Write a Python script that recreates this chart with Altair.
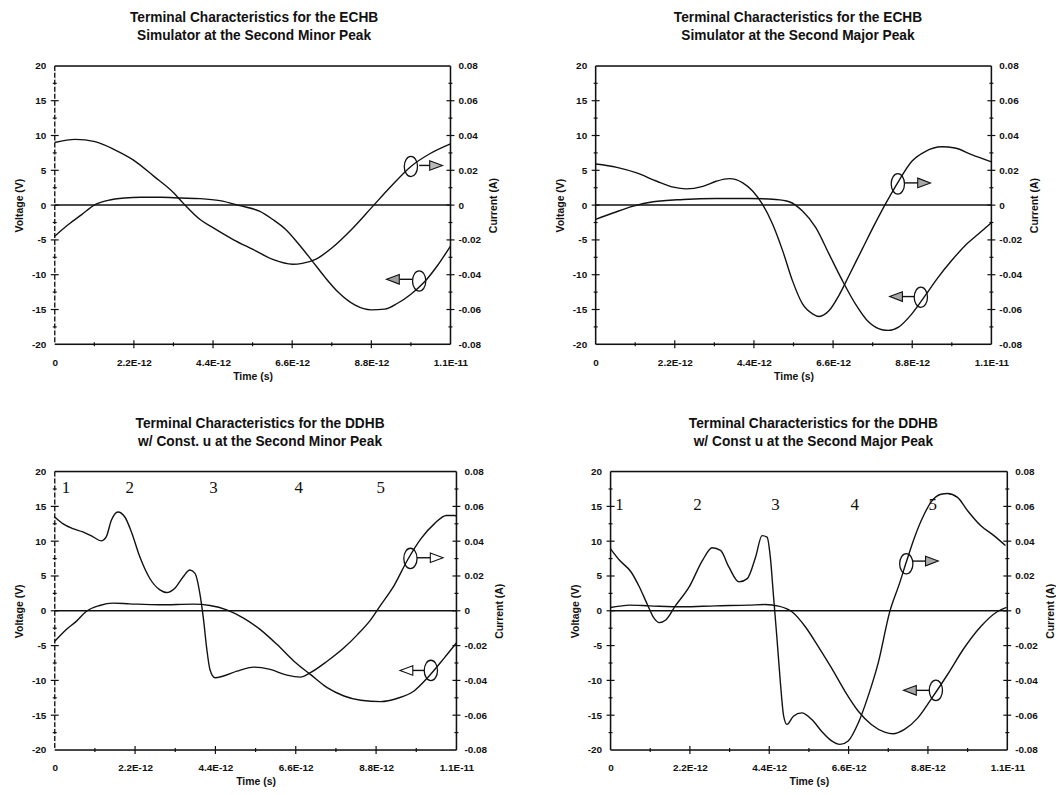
import altair as alt
import pandas as pd

PS = 1e-12          # picoseconds -> seconds
T_MAX = 1.1e-11

TITLES = [
    ["Terminal Characteristics for the ECHB", "Simulator at the Second Minor Peak"],
    ["Terminal Characteristics for the ECHB", "Simulator at the Second Major Peak"],
    ["Terminal Characteristics for the DDHB", "w/ Const. u at the Second Minor Peak"],
    ["Terminal Characteristics for the DDHB", "w/ Const u at the Second Major Peak"],
]

# ---------------- Panel 1 (ECHB, second minor peak) ----------------
P1_VT = [0, 0.38, 0.75, 1.12, 1.48, 1.94, 2.40, 2.95, 3.50, 4.04, 4.59, 5.14, 5.69, 6.06,
         6.42, 6.79, 7.16, 7.52, 7.89, 8.35, 8.80, 9.17, 9.53, 9.90, 10.26, 10.63, 11.0]
P1_V = [-4.46, -2.79, -1.36, 0.07, 0.69, 1.02, 1.12, 1.12, 1.02, 0.93, 0.64, -0.07, -0.88, -2.07,
        -3.5, -5.65, -8.04, -10.42, -12.57, -14.38, -15.05, -14.95, -14.1, -12.8, -11.13, -8.75, -5.89]
P1_IT = [0, 0.57, 1.12, 1.67, 2.21, 2.76, 3.31, 3.59, 4.04, 4.41, 4.96, 5.51, 6.06, 6.61, 6.88,
         7.25, 7.71, 8.25, 8.80, 9.35, 9.90, 10.45, 11.0]
P1_I = [0.0360, 0.0378, 0.0365, 0.0318, 0.0256, 0.0165, 0.0070, 0.0007, -0.0083, -0.0131, -0.0198,
        -0.0255, -0.0312, -0.0340, -0.0335, -0.0312, -0.0245, -0.0140, -0.0016, 0.0108, 0.0222,
        0.0298, 0.0352]

# ---------------- Panel 2 (ECHB, second major peak) ----------------
P2_VT = [0, 0.50, 1.05, 1.60, 2.43, 3.35, 4.27, 5.01, 5.38, 5.75, 6.12, 6.49, 6.86, 7.22, 7.59,
         7.96, 8.14, 8.42, 8.79, 9.16, 9.52, 9.89, 10.26, 10.63, 11.0]
P2_V = [-2.05, -1.10, -0.14, 0.48, 0.81, 0.95, 0.95, 0.81, 0.48, -0.86, -3.24, -7.05, -10.86,
        -14.19, -16.81, -17.9, -18.0, -17.52, -15.62, -13.0, -10.38, -8.0, -5.86, -4.19, -2.52]
P2_IT = [0, 0.59, 1.14, 1.70, 2.16, 2.52, 2.98, 3.35, 3.72, 4.09, 4.37, 4.64, 4.92, 5.20, 5.47,
         5.75, 6.03, 6.21, 6.49, 6.76, 7.04, 7.41, 7.78, 8.05, 8.42, 8.79, 9.16, 9.62, 9.99,
         10.45, 11.0]
P2_I = [0.0236, 0.0217, 0.0185, 0.0137, 0.0103, 0.0093, 0.0108, 0.0137, 0.0152, 0.0128, 0.0080,
        0.0004, -0.0110, -0.0263, -0.0434, -0.0568, -0.0625, -0.0640, -0.0606, -0.0520, -0.0406,
        -0.0253, -0.0101, 0.0004, 0.0137, 0.0252, 0.0308, 0.0335, 0.0328, 0.0290, 0.0248]

# ---------------- Panel 3 (DDHB, second minor peak) ----------------
P3_VT = [0, 0.31, 0.59, 0.86, 1.23, 1.60, 2.05, 2.88, 3.80, 4.25, 4.71, 5.17, 5.63, 6.09, 6.55,
         7.00, 7.46, 7.92, 8.38, 8.93, 9.39, 9.84, 10.21, 10.67, 11.0]
P3_V = [-4.38, -2.71, -1.52, -0.10, 0.76, 1.10, 1.0, 0.86, 0.95, 0.76, 0.14, -1.05, -2.71, -4.86,
        -7.24, -9.14, -11.05, -12.24, -12.86, -13.05, -12.57, -11.52, -9.62, -6.76, -4.62]
P3_IT = [0, 0.22, 0.50, 0.77, 1.05, 1.27, 1.41, 1.55, 1.73, 1.92, 2.10, 2.33, 2.60, 2.88, 3.06,
         3.29, 3.52, 3.70, 3.84, 3.98, 4.07, 4.16, 4.25, 4.39, 4.62, 4.99, 5.45, 5.90, 6.36, 6.73,
         7.00, 7.46, 7.92, 8.29, 8.65, 8.93, 9.30, 9.66, 10.03, 10.40, 10.72, 10.95, 11.0]
P3_I = [0.0539, 0.0501, 0.0472, 0.0453, 0.0425, 0.0402, 0.0425, 0.0520, 0.0568, 0.0539, 0.0453,
        0.0310, 0.0187, 0.0120, 0.0105, 0.0130, 0.0196, 0.0234, 0.0215, 0.0092, -0.0042, -0.0213,
        -0.0337, -0.0385, -0.0375, -0.0347, -0.0324, -0.0337, -0.0370, -0.0381, -0.0356, -0.0290,
        -0.0213, -0.0137, -0.0052, 0.0034, 0.0148, 0.0292, 0.0415, 0.0501, 0.0548, 0.0548, 0.0543]

# ---------------- Panel 4 (DDHB, second major peak) ----------------
P4_VT = [0, 0.25, 0.52, 1.08, 2.0, 2.91, 3.83, 4.29, 4.66, 5.03, 5.40, 5.76, 6.13, 6.50, 6.87,
         7.23, 7.60, 7.83, 8.15, 8.52, 8.88, 9.34, 9.80, 10.26, 10.72, 10.98]
P4_V = [0.48, 0.67, 0.81, 0.71, 0.57, 0.71, 0.81, 0.90, 0.67, -0.14, -2.29, -5.14, -8.24, -11.57,
        -14.43, -16.33, -17.43, -17.67, -17.05, -15.38, -12.76, -9.19, -5.38, -2.29, -0.14, 0.48]
P4_IT = [0, 0.25, 0.57, 0.80, 1.03, 1.21, 1.35, 1.53, 1.81, 2.18, 2.55, 2.82, 3.05, 3.28, 3.56,
         3.79, 4.02, 4.20, 4.34, 4.43, 4.52, 4.61, 4.71, 4.80, 4.89, 5.07, 5.30, 5.58, 5.85, 6.13,
         6.36, 6.59, 6.87, 7.14, 7.42, 7.74, 8.01, 8.20, 8.43, 8.70, 8.88, 9.16, 9.34, 9.62, 9.90,
         10.26, 10.63, 10.95]
P4_I = [0.0356, 0.0290, 0.0223, 0.0137, 0.0032, -0.0044, -0.0068, -0.0053, 0.0032, 0.0137, 0.0290,
        0.0362, 0.0347, 0.0252, 0.0166, 0.0185, 0.0308, 0.0432, 0.0423, 0.0308, 0.0080, -0.0148,
        -0.0415, -0.0606, -0.0653, -0.0606, -0.0587, -0.0625, -0.0692, -0.0748, -0.0768, -0.0748,
        -0.0644, -0.0492, -0.0301, -0.0006, 0.0156, 0.0280, 0.0423, 0.0556, 0.0623, 0.0670,
        0.0674, 0.0652, 0.0575, 0.0490, 0.0432, 0.0375]

# ---------------- Arrow annotations: [current (->), voltage (<-)] ----------------
ANN_DIR = ["right", "left"]
P1_ANN = dict(ell_t=[9.90, 10.13], ell_v=[5.55, -10.9], t0=[10.13, 9.94], t1=[10.47, 9.58],
              av=[5.7, -10.66], tri_t=[10.60, 9.40])
P2_ANN = dict(ell_t=[8.40, 9.04], ell_v=[3.05, -13.24], t0=[8.59, 8.85], t1=[8.97, 8.51],
              av=[3.19, -13.14], tri_t=[9.13, 8.35])
P3_ANN = dict(ell_t=[9.74, 10.30], ell_v=[7.52, -8.57], t0=[9.92, 10.12], t1=[10.30, 9.80],
              av=[7.62, -8.57], tri_t=[10.46, 9.63])
P4_ANN = dict(ell_t=[8.20, 9.02], ell_v=[6.76, -11.43], t0=[8.38, 8.84], t1=[8.75, 8.47],
              av=[7.14, -11.43], tri_t=[8.91, 8.30])
TRI_FILLS = [["#b8b8b8", "#a0a0a0"], ["#a8a8a8", "#a8a8a8"], ["white", "white"], ["#a8a8a8", "#a8a8a8"]]

# ---------------- Region numbers (DDHB panels) ----------------
NUM_LABELS = ["1", "2", "3", "4", "5"]
P3_NUM_T = [0.31, 2.05, 4.35, 6.68, 8.93]
P3_NUM_V = [17.6, 17.6, 17.6, 17.6, 17.6]
P4_NUM_T = [0.25, 2.41, 4.57, 6.77, 8.93]
P4_NUM_V = [15.2, 15.2, 15.2, 15.2, 15.2]

# ---------------- Axis ticks / frame ----------------
X_LABEL_VALUES = [0, 2.2e-12, 4.4e-12, 6.6e-12, 8.8e-12, 1.1e-11]
X_MAJOR_PS = [2.2, 4.4, 6.6, 8.8]
X_MINOR_PS = [1.1, 3.3, 5.5, 7.7, 9.9]
V_LABEL_VALUES = [-20, -15, -10, -5, 0, 5, 10, 15, 20]
V_MAJOR = [-15, -10, -5, 0, 5, 10, 15]
V_MINOR = [-17.5, -12.5, -7.5, -2.5, 2.5, 7.5, 12.5, 17.5]
I_LABEL_VALUES = [-0.08, -0.06, -0.04, -0.02, 0, 0.02, 0.04, 0.06, 0.08]
H_LINES_V = [20, 0, -20]          # top frame, zero line, bottom frame
V_LINES_PS = [0.0, 11.0]          # left and right frame

FONT = "Liberation Sans"
ELLIPSE = ("M0.65,0C0.65,0.552 0.359,1 0,1C-0.359,1 -0.65,0.552 -0.65,0"
           "C-0.65,-0.552 -0.359,-1 0,-1C0.359,-1 0.65,-0.552 0.65,0Z")
TRI_R = "M-1,-0.75L1,0L-1,0.75Z"
TRI_L = "M1,-0.75L-1,0L1,0.75Z"
H = 280
INK = "#111"


def panel(k, vt, vv, it, ii, ann, width, left_dash, nums=None, title_dx=4.5):
    xs = alt.Scale(domain=[0, T_MAX], nice=False, zero=False)
    ys = alt.Scale(domain=[-20, 20], nice=False, zero=False)
    cs = alt.Scale(domain=[-0.08, 0.08], nice=False, zero=False)

    common = dict(domain=False, ticks=False, grid=False, labelFont=FONT, labelFontSize=10,
                  labelFontWeight="bold", labelColor=INK, titleFont=FONT, titleFontSize=10.5,
                  titleFontWeight="bold", titleColor=INK, zindex=1)
    xaxis = alt.Axis(values=X_LABEL_VALUES, title="Time (s)", orient="bottom",
                     labelExpr="datum.value == 0 ? '0' : replace(format(datum.value, '.1e'), 'e', 'E')",
                     labelFlush=False, labelOverlap=False, labelPadding=13,
                     titleX=width / 2, titleY=32, titleBaseline="middle", titleAlign="center", **common)
    yaxis = alt.Axis(values=V_LABEL_VALUES, title="Voltage (V)", orient="left",
                     labelExpr="'' + datum.value", labelPadding=9, labelOverlap=False,
                     titleX=-35, titleY=H / 2, titleAngle=270,
                     titleBaseline="middle", titleAlign="center", **common)
    caxis = alt.Axis(values=I_LABEL_VALUES, title="Current (A)", orient="right",
                     labelExpr="abs(datum.value) < 1e-9 ? '0' : (datum.value < 0 ? '-' : '') + format(abs(datum.value), '.2f')",
                     labelPadding=7.5, labelOverlap=False, titleX=43, titleY=H / 2, titleAngle=270,
                     titleBaseline="middle", titleAlign="center", **common)

    # every layer carries the same x axis definition so the shared axis merges cleanly
    def X(f):
        return alt.X(f, type="quantitative", scale=xs, axis=xaxis)

    def Y(f, ax=None):
        return alt.Y(f, type="quantitative", scale=ys, axis=ax)

    # frame lines
    hl = alt.Chart(pd.DataFrame({"t": [0.0, 0.0, 0.0], "v": H_LINES_V})).mark_rule(
        color=INK, strokeWidth=1.5).encode(y=Y("v"))
    vdash = [5, 2] if left_dash else [1, 0]
    vl_left = alt.Chart(pd.DataFrame({"t": [V_LINES_PS[0] * PS]})).mark_rule(
        color=INK, strokeWidth=1.3 if left_dash else 1.5, strokeDash=vdash).encode(x=X("t"))
    vl_right = alt.Chart(pd.DataFrame({"t": [V_LINES_PS[1] * PS]})).mark_rule(
        color=INK, strokeWidth=1.5).encode(x=X("t"))

    yt = pd.DataFrame({
        "t": [0.0] * (len(V_MAJOR) + len(V_MINOR)) + [T_MAX] * (len(V_MAJOR) + len(V_MINOR)),
        "v": (V_MAJOR + V_MINOR) * 2,
        "sz": ([8] * len(V_MAJOR) + [4] * len(V_MINOR)) * 2,
    })
    yticks = alt.Chart(yt).mark_tick(orient="horizontal", color=INK, thickness=1.2, opacity=1).encode(
        x=X("t"), y=Y("v"), size=alt.Size("sz:Q", scale=None, legend=None))
    xt = pd.DataFrame({
        "t": [t * PS for t in X_MAJOR_PS + X_MINOR_PS],
        "v": [-20] * (len(X_MAJOR_PS) + len(X_MINOR_PS)),
        "sz": [8] * len(X_MAJOR_PS) + [4] * len(X_MINOR_PS),
    })
    xticks = alt.Chart(xt).mark_tick(orient="vertical", color=INK, thickness=1.2, opacity=1).encode(
        x=X("t"), y=Y("v"), size=alt.Size("sz:Q", scale=None, legend=None))

    # voltage curve (carries the left axis)
    vdf = pd.DataFrame({"t": [t * PS for t in vt], "v": vv})
    volt = alt.Chart(vdf).mark_line(color=INK, strokeWidth=1.4, interpolate="monotone").encode(
        x=X("t"), y=Y("v", yaxis))

    # annotations
    edf = pd.DataFrame({"t": [t * PS for t in ann["ell_t"]], "v": ann["ell_v"]})
    ells = alt.Chart(edf).mark_point(shape=ELLIPSE, size=420, filled=False, color=INK,
                                     strokeWidth=1.3, opacity=1).encode(x=X("t"), y=Y("v"))
    adf = pd.DataFrame({"t0": [t * PS for t in ann["t0"]], "t1": [t * PS for t in ann["t1"]],
                        "v": ann["av"]})
    arrows = alt.Chart(adf).mark_rule(color=INK, strokeWidth=1.4).encode(
        x=X("t0"), x2="t1", y=Y("v"))
    tdf = pd.DataFrame({"t": [t * PS for t in ann["tri_t"]], "v": ann["av"], "dir": ANN_DIR,
                        "fill": TRI_FILLS[k]})
    tris = alt.Chart(tdf).mark_point(size=165, filled=True, stroke=INK, strokeWidth=1.1,
                                     opacity=1).encode(
        x=X("t"), y=Y("v"),
        shape=alt.Shape("dir:N", scale=alt.Scale(domain=ANN_DIR, range=[TRI_R, TRI_L]), legend=None),
        fill=alt.Fill("fill:N", scale=None, legend=None))

    layers = [hl, vl_left, vl_right, yticks, xticks, volt, ells, arrows, tris]
    if nums is not None:
        ndf = pd.DataFrame({"t": [t * PS for t in nums[0]], "v": nums[1], "lab": NUM_LABELS})
        layers.append(alt.Chart(ndf).mark_text(font="Liberation Serif", fontSize=17, color=INK,
                                                align="center", baseline="middle").encode(
            x=X("t"), y=Y("v"), text="lab:N"))

    # current curve on its own (right) scale
    idf = pd.DataFrame({"t": [t * PS for t in it], "i": ii})
    curr = alt.Chart(idf).mark_line(color=INK, strokeWidth=1.4, interpolate="monotone").encode(
        x=X("t"), y=alt.Y("i", type="quantitative", scale=cs, axis=caxis))
    layers.append(curr)

    return alt.layer(*layers).resolve_scale(y="independent").properties(
        width=width, height=H,
        title=alt.TitleParams(text=TITLES[k], font=FONT, fontSize=13.8, fontWeight="bold",
                              lineHeight=18.5, offset=18, dx=title_dx, color=INK))


p1 = panel(0, P1_VT, P1_V, P1_IT, P1_I, P1_ANN, 398, True, title_dx=1.5)
p2 = panel(1, P2_VT, P2_V, P2_IT, P2_I, P2_ANN, 398, False)
p3 = panel(2, P3_VT, P3_V, P3_IT, P3_I, P3_ANN, 404, True, (P3_NUM_T, P3_NUM_V))
p4 = panel(3, P4_VT, P4_V, P4_IT, P4_I, P4_ANN, 399, False, (P4_NUM_T, P4_NUM_V))

row1 = alt.hconcat(p1, p2, spacing=56)
row2 = alt.hconcat(p3, p4, spacing=65)
chart = alt.vconcat(row1, row2, spacing=34).properties(
    padding={"left": 6, "top": 0, "right": 0, "bottom": 0}
).configure_view(stroke=None).configure(background="white")

chart.save("out.html", embed_options={"renderer": "svg", "actions": False})
